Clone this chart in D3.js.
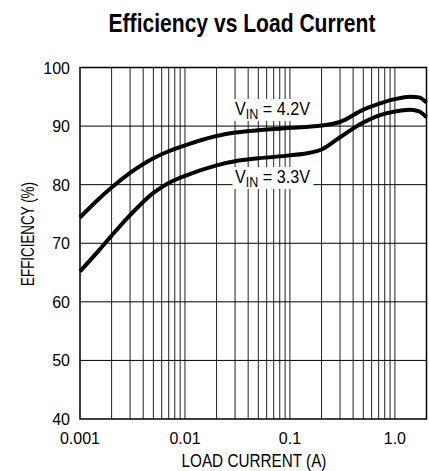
<!DOCTYPE html>
<html>
<head>
<meta charset="utf-8">
<script src="https://cdn.jsdelivr.net/npm/d3@7"></script>
<style>
  body { margin: 0; background: #fff; }
  svg { display: block; }
</style>
</head>
<body>
<script>
// load current (A) and efficiency (%)
const current = [0.001, 0.0015, 0.002, 0.003, 0.005, 0.007, 0.01, 0.02, 0.03, 0.05, 0.1, 0.15, 0.2, 0.3, 0.5, 0.7, 1.0, 1.4, 1.7, 2.0];
const eff42 = [74.4, 77.5, 79.5, 82.0, 84.5, 85.7, 86.7, 88.3, 88.9, 89.3, 89.7, 89.9, 90.1, 90.7, 92.8, 93.8, 94.6, 95.0, 94.9, 94.0];
const eff33 = [65.2, 68.7, 71.3, 74.8, 78.6, 80.3, 81.5, 83.3, 84.0, 84.5, 85.0, 85.4, 86.0, 88.1, 90.6, 91.8, 92.5, 92.8, 92.5, 91.5];
const yTicks = [40, 50, 60, 70, 80, 90, 100];
const xTicks = [0.001, 0.01, 0.1, 1.0];
const xTickLabels = ["0.001", "0.01", "0.1", "1.0"];

const w = 429, h = 471;
const plotL = 80, plotR = 426.5, plotT = 67.5, plotB = 419;
const font = "'Liberation Sans', Arial, sans-serif";

const svg = d3.select("body").append("svg").attr("width", w).attr("height", h);

const x = d3.scaleLog().domain([0.001, 2]).range([plotL, plotR]);
const y = d3.scaleLinear().domain([40, 100]).range([plotB, plotT]);

// narrow text: squeeze a text horizontally to a given width, centred on cx
function narrowText(parent, cx, cy, width, size, weight, rotate) {
  const g = parent.append("g");
  const t = g.append("text")
    .attr("text-anchor", "middle")
    .style("font-family", font)
    .style("font-size", size + "px")
    .style("font-weight", weight || "normal");
  return {
    g: g,
    t: t,
    fit: function () {
      const len = t.node().getComputedTextLength();
      const sx = width / len;
      g.attr("transform", "translate(" + cx + "," + cy + ")" + (rotate ? " rotate(" + rotate + ")" : "") + " scale(" + sx + ",1)");
    }
  };
}

// title
const title = narrowText(svg, 242, 32, 267, 26, "bold");
title.t.text("Efficiency vs Load Current");
title.fit();

// grid: every 1..9 of each decade
const minor = [];
for (let k = -3; k <= 0; k++) {
  for (let m = 1; m <= 9; m++) {
    const v = m * Math.pow(10, k);
    if (v > 0.001 && v <= 2) minor.push(v);
  }
}
minor.push(2);

svg.append("g")
  .selectAll("line")
  .data(minor)
  .enter()
  .append("line")
  .attr("x1", (d) => x(d)).attr("x2", (d) => x(d))
  .attr("y1", plotT).attr("y2", plotB)
  .attr("stroke", "#222")
  .attr("stroke-width", 1);

svg.append("g")
  .selectAll("line")
  .data(yTicks.slice(1, -1))
  .enter()
  .append("line")
  .attr("x1", plotL).attr("x2", plotR)
  .attr("y1", (d) => y(d)).attr("y2", (d) => y(d))
  .attr("stroke", "#000")
  .attr("stroke-width", 1);

// curves
const line = d3.line()
  .x((d) => x(d[0]))
  .y((d) => y(d[1]))
  .curve(d3.curveMonotoneX);

[eff42, eff33].forEach((s) => {
  svg.append("path")
    .datum(current.map((c, i) => [c, s[i]]))
    .attr("d", line)
    .attr("fill", "none")
    .attr("stroke", "#000")
    .attr("stroke-width", 4)
    .attr("stroke-linejoin", "round");
});

// series labels on white boxes
function vinLabel(cx, base, val) {
  svg.append("rect")
    .attr("x", cx - 40).attr("y", base - 16)
    .attr("width", 81).attr("height", 22)
    .attr("fill", "#fff");
  const lab = narrowText(svg, cx, base, 75, 18);
  lab.t.append("tspan").text("V");
  lab.t.append("tspan").attr("dy", 4).style("font-size", "14px").text("IN");
  lab.t.append("tspan").attr("dy", -4).text(" = " + val);
  lab.fit();
}
vinLabel(272.5, 115, "4.2V");
vinLabel(272.5, 183, "3.3V");

// frame
svg.append("rect")
  .attr("x", plotL).attr("y", plotT)
  .attr("width", plotR - plotL).attr("height", plotB - plotT)
  .attr("fill", "none")
  .attr("stroke", "#000")
  .attr("stroke-width", 1.5);

// tick labels
svg.append("g")
  .selectAll("text")
  .data(yTicks)
  .enter()
  .append("text")
  .attr("x", 70)
  .attr("y", (d) => y(d) + 6)
  .attr("text-anchor", "end")
  .style("font-family", font)
  .style("font-size", "16px")
  .text((d) => d);

svg.append("g")
  .selectAll("text")
  .data(xTicks)
  .enter()
  .append("text")
  .attr("x", (d) => x(d))
  .attr("y", 444)
  .attr("text-anchor", "middle")
  .style("font-family", font)
  .style("font-size", "16px")
  .text((d, i) => xTickLabels[i]);

// axis titles
const xTitle = narrowText(svg, 254, 467, 145, 19);
xTitle.t.text("LOAD CURRENT (A)");
xTitle.fit();

const yTitle = narrowText(svg, 34, 234, 104, 19, "normal", -90);
yTitle.t.text("EFFICIENCY (%)");
yTitle.fit();
</script>
</body>
</html>
